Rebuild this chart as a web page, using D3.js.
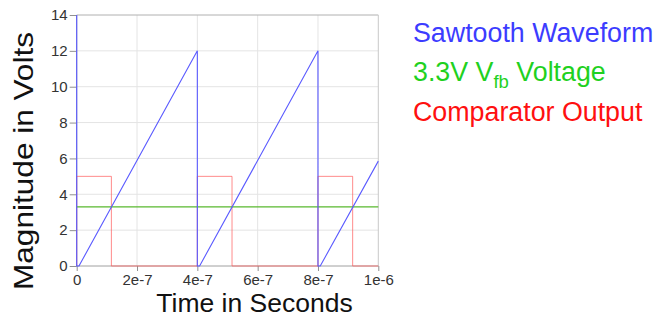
<!DOCTYPE html>
<html>
<head>
<meta charset="utf-8">
<script src="https://cdn.jsdelivr.net/npm/d3@7"></script>
<style>
  html, body { margin: 0; padding: 0; background: #fff; }
  svg { display: block; font-family: "Liberation Sans", Arial, sans-serif; }
</style>
</head>
<body>
<svg id="chart" width="654" height="322"></svg>
<script>
// Time axis ticks (seconds) and voltage ticks
const xTicks = [0, 2e-7, 4e-7, 6e-7, 8e-7, 1e-6];
const xTickLabels = ["0", "2e-7", "4e-7", "6e-7", "8e-7", "1e-6"];
const yTicks = [0, 2, 4, 6, 8, 10, 12, 14];

// Sawtooth waveform: [time s, volts]
const sawTime  = [0, 0, 7.5e-9, 4e-7, 4e-7, 4.075e-7, 8e-7, 8e-7, 8.075e-7, 1e-6];
const sawVolts = [14, 0, 0, 12, 0, 0, 12, 0, 0, 5.85];

// Feedback reference voltage
const vfbTime  = [0, 1e-6];
const vfbVolts = [3.3, 3.3];

// Comparator output
const cmpTime  = [0, 0, 1.15e-7, 1.15e-7, 4e-7, 4e-7, 5.15e-7, 5.15e-7, 8e-7, 8e-7, 9.15e-7, 9.15e-7, 1e-6];
const cmpVolts = [0, 5, 5, 0, 0, 5, 5, 0, 0, 5, 5, 0, 0];

const legendLabels = ["Sawtooth Waveform", "3.3V V", "Comparator Output"];

const svg = d3.select("#chart");
const plot = { left: 76.7, right: 378.3, top: 15, bottom: 266 };

const x = d3.scaleLinear().domain([0, 1e-6]).range([plot.left, plot.right]);
const y = d3.scaleLinear().domain([0, 14]).range([plot.bottom, plot.top]);

// Grid
const grid = svg.append("g");
grid.selectAll("line.v").data(xTicks.slice(1, -1)).join("line")
  .attr("x1", d => x(d)).attr("x2", d => x(d))
  .attr("y1", plot.top).attr("y2", plot.bottom)
  .attr("stroke", "#e4e4e4").attr("stroke-width", 1);
grid.selectAll("line.h").data(yTicks.slice(1, -1)).join("line")
  .attr("x1", plot.left).attr("x2", plot.right)
  .attr("y1", d => y(d)).attr("y2", d => y(d))
  .attr("stroke", "#e4e4e4").attr("stroke-width", 1);

// Frame (top and right)
svg.append("line").attr("x1", plot.left).attr("x2", plot.right)
  .attr("y1", plot.top).attr("y2", plot.top).attr("stroke", "#b0b0b0");
svg.append("line").attr("x1", plot.right).attr("x2", plot.right)
  .attr("y1", plot.top).attr("y2", plot.bottom).attr("stroke", "#c8c8c8");

// Axes
const xAxis = d3.axisBottom(x).tickValues(xTicks)
  .tickFormat((d, i) => xTickLabels[i]).tickSize(5).tickPadding(3);
const yAxis = d3.axisLeft(y).tickValues(yTicks).tickFormat(d3.format("d"))
  .tickSize(7).tickPadding(2);

const gx = svg.append("g").attr("transform", `translate(0,${plot.bottom})`).call(xAxis);
const gy = svg.append("g").attr("transform", `translate(${plot.left},0)`).call(yAxis);
[gx, gy].forEach(g => {
  g.select(".domain").attr("stroke", "#a0a0a0");
  g.selectAll(".tick line").attr("stroke", "#909090");
  g.selectAll(".tick text").attr("fill", "#333").style("font-size", "15px")
    .style("font-family", "'Liberation Sans', Arial, sans-serif");
});
gx.select(".domain").attr("d", `M${plot.left},0H${plot.right}`);
gy.select(".domain").attr("d", `M0,${plot.bottom}V${plot.top}`);
gx.selectAll(".tick text").attr("dy", "0.75em");

// Series
const line = d3.line().x(d => x(d[0])).y(d => y(d[1]));
const zipPts = (t, v) => t.map((ti, i) => [ti, v[i]]);

svg.append("path").datum(zipPts(cmpTime, cmpVolts)).attr("d", line)
  .attr("fill", "none").attr("stroke", "#ff5a5a").attr("stroke-opacity", 0.7).attr("stroke-width", 1);
svg.append("path").datum(zipPts(vfbTime, vfbVolts)).attr("d", line)
  .attr("fill", "none").attr("stroke", "#58b82e").attr("stroke-width", 1.3);
svg.append("path").datum(zipPts(sawTime, sawVolts)).attr("d", line)
  .attr("fill", "none").attr("stroke", "#5a5aff").attr("stroke-width", 1.1);

// Axis titles
svg.append("text").attr("x", 254.5).attr("y", 312).attr("text-anchor", "middle")
  .style("font-size", "26.5px").attr("fill", "#111").text("Time in Seconds");
svg.append("text").attr("transform", "translate(33,161) rotate(-90)")
  .attr("text-anchor", "middle").style("font-size", "28px")
  .attr("textLength", 258).attr("lengthAdjust", "spacingAndGlyphs")
  .attr("fill", "#111").text("Magnitude in Volts");

// Legend
const lg = svg.append("g").style("font-size", "26.8px");
lg.append("text").attr("x", 413).attr("y", 41.5).attr("fill", "#3c3cff").text(legendLabels[0]);
const t2 = lg.append("text").attr("x", 413).attr("y", 81).attr("fill", "#1fd11f");
t2.append("tspan").text(legendLabels[1]);
t2.append("tspan").attr("dy", 7).style("font-size", "18.5px").text("fb");
t2.append("tspan").attr("dy", -7).text(" Voltage");
lg.append("text").attr("x", 413).attr("y", 121).attr("fill", "#ff1010").text(legendLabels[2]);
</script>
</body>
</html>
